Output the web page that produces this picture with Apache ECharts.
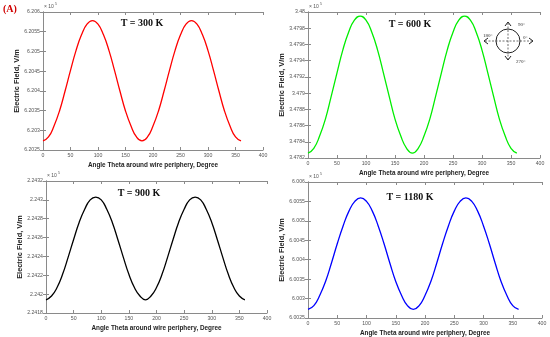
<!DOCTYPE html>
<html>
<head>
<meta charset="utf-8">
<script src="https://cdn.jsdelivr.net/npm/echarts@6/dist/echarts.min.js"></script>
<style>html,body{margin:0;padding:0;background:#fff}#c{width:550px;height:337px}</style>
</head>
<body>
<div id="c"></div>
<script>
// Angle (degree)
const angles = [0,10,20,30,40,50,60,70,80,90,100,110,120,130,140,150,160,170,180,190,200,210,220,230,240,250,260,270,280,290,300,310,320,330,340,350,360];
// Electric field, V/m
const e300 = [620273,620283,620311,620349,620399,620452,620502,620542,620569,620578,620569,620542,620502,620452,620399,620349,620311,620283,620273,620283,620311,620349,620399,620452,620502,620542,620569,620578,620569,620542,620502,620452,620399,620349,620311,620283,620273];
const e600 = [347826,347832,347847,347868,347896,347925,347953,347975,347990,347995,347990,347975,347953,347925,347896,347868,347847,347832,347826,347832,347847,347868,347896,347925,347953,347975,347990,347995,347990,347975,347953,347925,347896,347868,347847,347832,347826];
const e900 = [224194,224198,224207,224221,224239,224258,224276,224290,224300,224303,224300,224290,224276,224258,224239,224221,224207,224198,224194,224198,224207,224221,224239,224258,224276,224290,224300,224303,224300,224290,224276,224258,224239,224221,224207,224198,224194];
const e1180 = [600272,600282,600308,600344,600391,600441,600487,600525,600550,600559,600550,600525,600487,600441,600391,600344,600308,600282,600272,600282,600308,600344,600391,600441,600487,600525,600550,600559,600550,600525,600487,600441,600391,600344,600308,600282,600272];
const xTicks = [0,50,100,150,200,250,300,350,400];
const titles = ['T = 300 K','T = 600 K','T = 900 K','T = 1180 K'];
const xName = 'Angle Theta around wire periphery, Degree';
const yName = 'Electric Field, V/m';

const panels = [
  {data:e300, color:'#ff0000', grid:{left:43, top:12, width:220, height:138}, min:620250, max:620600, step:50, tx:142, ty:23},
  {data:e600, color:'#00ee00', grid:{left:308, top:12, width:232, height:146}, min:347820, max:348000, step:20, tx:410, ty:24},
  {data:e900, color:'#000000', grid:{left:46, top:181, width:221, height:132}, min:224180, max:224320, step:20, tx:139, ty:193},
  {data:e1180, color:'#0000ff', grid:{left:308, top:182, width:234, height:136}, min:600250, max:600600, step:50, tx:410, ty:197}
];

const frame = {lineStyle:{color:'#8a8a8a', width:1}};
const tick = {show:true, inside:true, length:3, lineStyle:{color:'#8a8a8a'}};
const labFont = {fontFamily:'Liberation Sans, Arial, sans-serif', fontSize:5.2, color:'#555'};
const nameFont = {fontFamily:'Liberation Sans, Arial, sans-serif', fontSize:6.4, fontWeight:'bold', color:'#222'};
const yNameFont = {fontFamily:'Liberation Sans, Arial, sans-serif', fontSize:7.4, fontWeight:'bold', color:'#222'};

const grids = [], xAxes = [], yAxes = [], series = [], graphic = [];
panels.forEach((p, i) => {
  grids.push(Object.assign({containLabel:false}, p.grid));
  xAxes.push({type:'value', gridIndex:i, min:xTicks[0], max:xTicks[xTicks.length-1], interval:50,
    axisLine:frame, axisTick:tick, splitLine:{show:false},
    axisLabel:Object.assign({margin:3}, labFont),
    name:xName, nameLocation:'middle', nameGap:12, nameTextStyle:nameFont});
  xAxes.push({type:'value', gridIndex:i, position:'top', min:xTicks[0], max:xTicks[xTicks.length-1], interval:50,
    axisLine:frame, axisTick:tick, splitLine:{show:false}, axisLabel:{show:false}});
  yAxes.push({type:'value', gridIndex:i, min:p.min, max:p.max, interval:p.step,
    axisLine:frame, axisTick:tick, splitLine:{show:false},
    axisLabel:Object.assign({margin:3, formatter:v => parseFloat((v/1e5).toFixed(5)).toString()}, labFont),
    name:yName, nameLocation:'middle', nameGap:23, nameTextStyle:yNameFont});
  yAxes.push({type:'value', gridIndex:i, position:'right', min:p.min, max:p.max, interval:p.step,
    axisLine:frame, axisTick:tick, splitLine:{show:false}, axisLabel:{show:false}});
  series.push({type:'line', xAxisIndex:2*i, yAxisIndex:2*i, smooth:true, symbol:'none',
    lineStyle:{color:p.color, width:1.3}, data:angles.map((a, k) => [a, p.data[k]])});
  graphic.push({type:'text', x:p.tx, y:p.ty, style:{text:titles[i], font:'bold 10px "Liberation Serif", "Times New Roman", serif', fill:'#111', align:'center', verticalAlign:'middle'}});
  graphic.push({type:'text', x:p.grid.left + 1, y:p.grid.top - 3, style:{text:'× 10', font:'5px "Liberation Sans", Arial, sans-serif', fill:'#555', verticalAlign:'bottom'}});
  graphic.push({type:'text', x:p.grid.left + 12, y:p.grid.top - 6, style:{text:'5', font:'3.5px "Liberation Sans", Arial, sans-serif', fill:'#555', verticalAlign:'bottom'}});
});

graphic.push({type:'text', x:3, y:9, style:{text:'(A)', font:'bold 10px "Liberation Serif", "Times New Roman", serif', fill:'#d00000', verticalAlign:'middle'}});

// compass sketch
const cx = 508, cy = 41;
graphic.push({type:'circle', shape:{cx:cx, cy:cy, r:12}, style:{fill:'none', stroke:'#222', lineWidth:1}});
graphic.push({type:'line', shape:{x1:cx, y1:cy-18, x2:cx, y2:cy+18}, style:{stroke:'#333', lineWidth:0.7, lineDash:[2,1.5]}});
graphic.push({type:'line', shape:{x1:cx-23, y1:cy, x2:cx+24, y2:cy}, style:{stroke:'#333', lineWidth:0.7, lineDash:[2,1.5]}});
graphic.push({type:'polyline', shape:{points:[[cx-3,cy-15],[cx,cy-19],[cx+3,cy-15]]}, style:{fill:'none', stroke:'#222', lineWidth:1}});
graphic.push({type:'polyline', shape:{points:[[cx-3,cy+15],[cx,cy+19],[cx+3,cy+15]]}, style:{fill:'none', stroke:'#222', lineWidth:1}});
graphic.push({type:'polyline', shape:{points:[[cx-20,cy-3],[cx-24,cy],[cx-20,cy+3]]}, style:{fill:'none', stroke:'#222', lineWidth:1}});
graphic.push({type:'polyline', shape:{points:[[cx+21,cy-3],[cx+25,cy],[cx+21,cy+3]]}, style:{fill:'none', stroke:'#222', lineWidth:1}});
const cf = '5px "Liberation Serif", "Times New Roman", serif';
graphic.push({type:'text', x:cx+10, y:cy-16, style:{text:'90°', font:cf, fill:'#333', verticalAlign:'middle'}});
graphic.push({type:'text', x:cx+15, y:cy-3, style:{text:'0°', font:cf, fill:'#333', verticalAlign:'middle'}});
graphic.push({type:'text', x:cx-25, y:cy-5, style:{text:'180°', font:cf, fill:'#333', verticalAlign:'middle'}});
graphic.push({type:'text', x:cx+8, y:cy+21, style:{text:'270°', font:cf, fill:'#333', verticalAlign:'middle'}});

const chart = echarts.init(document.getElementById('c'), null, {renderer:'canvas'});
chart.setOption({animation:false, backgroundColor:'#fff', grid:grids, xAxis:xAxes, yAxis:yAxes, series:series, graphic:graphic});
</script>
</body>
</html>
